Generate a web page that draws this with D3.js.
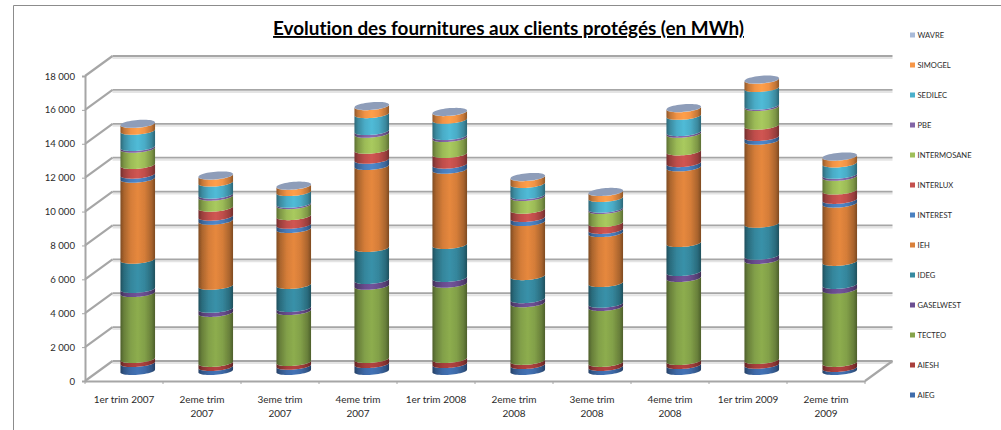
<!DOCTYPE html>
<html><head><meta charset="utf-8">
<script src="https://cdn.jsdelivr.net/npm/d3@7"></script>
<style>html,body{margin:0;padding:0;background:#fff}svg{display:block}text{font-family:Lato,"Open Sans",sans-serif;fill:#2b2b2b;font-variant-ligatures:none}</style>
</head><body><svg id="c" width="1001" height="430"></svg>
<script>
const categories=["1er trim 2007","2eme trim|2007","3eme trim|2007","4eme trim|2007","1er trim 2008","2eme trim|2008","3eme trim|2008","4eme trim|2008","1er trim 2009","2eme trim|2009"];
const seriesNames=["AIEG","AIESH","TECTEO","GASELWEST","IDEG","IEH","INTEREST","INTERLUX","INTERMOSANE","PBE","SEDILEC","SIMOGEL","WAVRE"];
const seriesColors=["#3f6cab","#a83f3c","#85a34a","#6b4e91","#36899f","#d9803a","#4a80c0","#c4504d","#9fbf59","#8265a6","#4bb0cb","#f79646","#a9bbd9"];
const AIEG=[470,240,310,410,410,350,240,350,370,180];
const AIESH=[240,240,220,300,300,250,240,240,280,300];
const TECTEO=[3890,2950,3010,4320,4440,3400,3300,4900,5900,4320];
const GASELWEST=[240,240,180,340,340,240,190,350,250,280];
const IDEG=[1730,1360,1360,1890,1950,1360,1220,1710,1890,1360];
const IEH=[4780,3840,3300,4840,4440,3190,2950,4470,4900,3440];
const INTEREST=[240,240,250,370,300,240,190,250,220,220];
const INTERLUX=[570,530,510,590,630,490,400,690,670,550];
const INTERMOSANE=[960,650,650,940,940,750,770,1040,1100,810];
const PBE=[100,120,80,160,120,100,80,100,80,120];
const SEDILEC=[960,710,690,1000,960,670,630,960,1040,670];
const SIMOGEL=[400,410,370,470,450,400,350,450,490,400];
const WAVRE=[10,10,10,10,10,10,10,10,10,10];
const seriesValues=[AIEG,AIESH,TECTEO,GASELWEST,IDEG,IEH,INTEREST,INTERLUX,INTERMOSANE,PBE,SEDILEC,SIMOGEL,WAVRE];
const yTicks=[0,2000,4000,6000,8000,10000,12000,14000,16000,18000];
const titleText="Evolution des fournitures aux clients protégés (en MWh)";

const svg=d3.select("#c");
const defs=svg.append("defs");
defs.append("filter").attr("id","soft").attr("x","-10%").attr("y","-10%").attr("width","120%").attr("height","120%")
  .append("feGaussianBlur").attr("stdDeviation",0.45);
const depthX=27.5, depthY=20;
const x=d3.scaleBand().domain(categories).range([85,865]);
const y=d3.scaleLinear().domain([0,18000]).range([381,76]);
const gridCol="#a6a6a6", shadowCol="#e4e4e4";

// chart frame
svg.append("path").attr("d","M13.5,430V5.5H1001").attr("fill","none").attr("stroke","#8c8c8c").attr("stroke-width",1);

// title
svg.append("text").attr("x",508.5).attr("y",35).attr("text-anchor","middle")
  .attr("font-size",18.9).attr("font-weight",700).attr("text-decoration","underline").style("fill","#000").text(titleText);

// walls
const wall=svg.append("g").attr("filter","url(#soft)");
wall.selectAll("line.s").data(yTicks).join("line").attr("class","s")
  .attr("x1",85+depthX).attr("x2",865+depthX).attr("y1",d=>y(d)-depthY+2).attr("y2",d=>y(d)-depthY+2)
  .attr("stroke",shadowCol).attr("stroke-width",2);
wall.selectAll("line.g").data(yTicks).join("line").attr("class","g")
  .attr("x1",85+depthX).attr("x2",865+depthX).attr("y1",d=>y(d)-depthY).attr("y2",d=>y(d)-depthY)
  .attr("stroke",gridCol).attr("stroke-width",1.8);
wall.selectAll("line.d").data(yTicks).join("line").attr("class","d")
  .attr("x1",85).attr("x2",85+depthX).attr("y1",d=>y(d)).attr("y2",d=>y(d)-depthY)
  .attr("stroke",gridCol).attr("stroke-width",2.2);
wall.append("line").attr("x1",865).attr("x2",865+depthX).attr("y1",y(0)).attr("y2",y(0)-depthY)
  .attr("stroke",gridCol).attr("stroke-width",2.2);

// axes
const yAxis=d3.axisLeft(y).tickValues(yTicks).tickSize(3).tickPadding(7)
  .tickFormat(d=>d3.format(",")(d).replace(",", " "));
const gy=svg.append("g").attr("transform","translate(85,0)").call(yAxis);
gy.select(".domain").attr("stroke",gridCol).attr("stroke-width",2);
gy.selectAll(".tick line").attr("stroke",gridCol);
gy.selectAll("text").attr("font-size",9.6).style("font-family","Lato");

const xAxis=d3.axisBottom(x).tickSize(0).tickPadding(12).tickFormat(()=>"");
const gx=svg.append("g").attr("transform",`translate(0,${y(0)})`).call(xAxis);
gx.select(".domain").attr("stroke",gridCol).attr("stroke-width",2);
gx.selectAll(".tick text").attr("dy",0).attr("y",null).attr("font-size",10).each(function(d){
  const el=d3.select(this);
  d.split("|").forEach((s,i)=>el.append("tspan").attr("x",0).attr("y",21.5+i*14).text(s));
});
gx.selectAll("line.edge").data(d3.range(categories.length+1)).join("line").attr("class","edge")
  .attr("x1",i=>x.range()[0]+i*x.step()).attr("x2",i=>x.range()[0]+i*x.step())
  .attr("y1",0).attr("y2",3).attr("stroke",gridCol);

// gradients
seriesNames.forEach((n,i)=>{
  const g=defs.append("linearGradient").attr("id","g"+i).attr("x1",0).attr("x2",1).attr("y1",0).attr("y2",0);
  const c=d3.color(seriesColors[i]);
  [[0,.58],[.1,.78],[.3,.98],[.5,1.06],[.7,.98],[.9,.78],[1,.58]].forEach(([o,k])=>{
    g.append("stop").attr("offset",o).attr("stop-color",d3.rgb(c.r*k,c.g*k,c.b*k).formatHex());
  });
});

// cylinders
const rx=17.3, ry=3.8, tilt=1.4;
const angles=d3.range(0,1.0001,1/24).map(f=>f*Math.PI);
const arc=(cx,cy)=>angles.map(a=>[cx+rx*Math.cos(a),cy+ry*Math.sin(a)-tilt*Math.cos(a)]);
const line=d3.line();
const bars=svg.append("g").attr("filter","url(#soft)");
categories.forEach((cat,ci)=>{
  const cx=x(cat)+x.bandwidth()/2+depthX/2;
  const off=-depthY/2;
  let cum=0;
  const g=bars.append("g");
  seriesNames.forEach((n,si)=>{
    const y0=y(cum)+off; cum+=seriesValues[si][ci]; const y1=y(cum)+off;
    const p=arc(cx,y0).concat(arc(cx,y1).reverse());
    g.append("path").attr("d",line(p)+"Z").attr("fill",`url(#g${si})`);
  });
  const cy=y(cum)+off;
  const top=arc(cx,cy).concat(angles.map(a=>[cx+rx*Math.cos(a),cy-ry*Math.sin(a)-tilt*Math.cos(a)]).reverse());
  g.append("path").attr("d",line(top)+"Z").attr("fill","#8e9db9");
});

// legend (top entry is the last series)
const legendY=d3.scalePoint().domain(seriesNames.slice().reverse()).range([35,395]);
const lg=svg.append("g").selectAll("g").data(seriesNames).join("g")
  .attr("transform",d=>`translate(910,${legendY(d)})`);
lg.append("rect").attr("x",0).attr("y",-2.5).attr("width",5).attr("height",5)
  .attr("fill",(d,i)=>seriesColors[i]);
lg.append("text").attr("x",7.5).attr("y",3).attr("font-size",7.6).text(d=>d);
</script></body></html>
